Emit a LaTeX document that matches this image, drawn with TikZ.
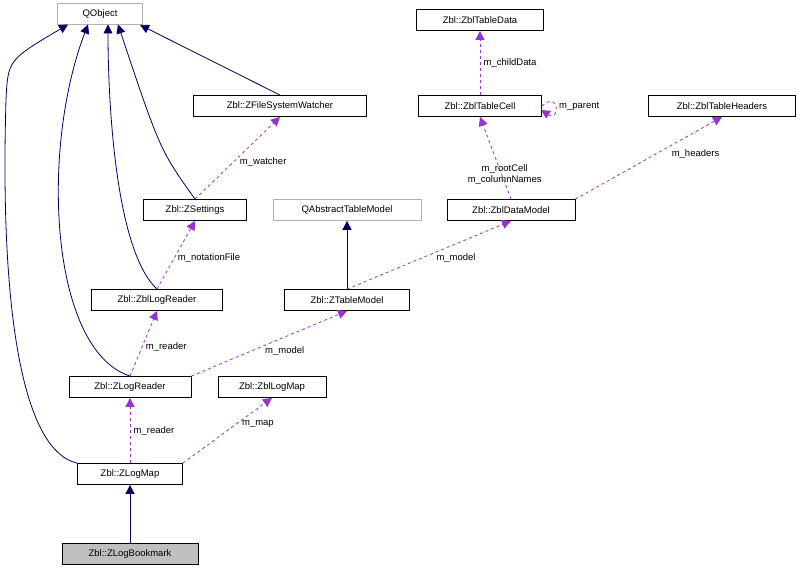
\documentclass[tikz,border=0pt]{standalone}
\usepackage{fontspec}
\setmainfont{Liberation Sans}
\colorlet{EdgeNavy}{blue!40!black}
\definecolor{EdgeViolet}{RGB}{154,50,205}
\usetikzlibrary{arrows.meta}

\begin{document}
\begin{tikzpicture}[x=1pt, y=-1pt,
    font=\fontsize{9.5}{11}\selectfont,
    cls/.style={draw=black, fill=white, inner sep=0pt, minimum height=21pt, line width=0.8pt},
    ext/.style={cls, draw=gray!60},
    inherit/.style={draw=EdgeNavy, line width=0.8pt, -{Triangle[length=9pt, width=9pt]}},
    usage/.style={draw=EdgeViolet, line width=0.8pt, dashed, -{Triangle[length=9pt, width=9pt]}}]

\useasboundingbox (0,0) rectangle (800,575);

\node[ext, minimum width=85pt] (QObject) at (100,14) {QObject};
\node[cls, minimum width=127pt] (TableData) at (480,20) {Zbl::ZblTableData};
\node[cls, minimum width=123pt] (TableCell) at (480,106) {Zbl::ZblTableCell};
\node[cls, minimum width=147pt] (TableHeaders) at (722,106) {Zbl::ZblTableHeaders};
\node[cls, minimum width=173pt] (Watcher) at (280,106) {Zbl::ZFileSystemWatcher};
\node[cls, minimum width=103pt] (Settings) at (195,210) {Zbl::ZSettings};
\node[ext, minimum width=148pt] (AbsModel) at (347,210) {QAbstractTableModel};
\node[cls, minimum width=128pt] (DataModel) at (511,210) {Zbl::ZblDataModel};
\node[cls, minimum width=131pt] (LogReaderZbl) at (157,300) {Zbl::ZblLogReader};
\node[cls, minimum width=125pt] (TableModel) at (347,300) {Zbl::ZTableModel};
\node[cls, minimum width=122pt] (LogReader) at (130,387) {Zbl::ZLogReader};
\node[cls, minimum width=108pt] (LogMapZbl) at (272,387) {Zbl::ZblLogMap};
\node[cls, minimum width=105pt] (LogMap) at (130,474) {Zbl::ZLogMap};
\node[cls, fill=gray!50, minimum width=136pt] (Bookmark) at (130,554) {Zbl::ZLogBookmark};

% inheritance
\draw[inherit] (Watcher.north) -- (QObject.south -| 140,0);
\draw[inherit] (Settings.north) .. controls (160,150) .. (118,24.5);
\draw[inherit] (LogReaderZbl.north) .. controls (115,250) and (108,100) .. (108,24.5);
\draw[inherit] (LogReader.north) .. controls (50,350) and (40,150) .. (88,24.5);
\draw[inherit] (LogMap.north west) .. controls (20,450) and (0,300) .. (6,100) .. controls (8,60) .. (68,24.5);
\draw[inherit] (TableModel.north) -- (AbsModel.south);
\draw[inherit] (Bookmark.north) -- (LogMap.south);

% usage
\draw[usage] (TableCell.north) -- node[right] {m\_childData} (TableData.south);
\draw[usage] (TableCell.east) .. controls (560,90) and (560,122) .. node[right, pos=0.5] {m\_parent} (541,110);
\draw[usage] (DataModel.north) -- node[pos=0.3, align=center, xshift=3pt] {m\_rootCell\\m\_columnNames} (TableCell.south);
\draw[usage] (DataModel.north east) -- node[pos=0.55, right, xshift=12pt] {m\_headers} (TableHeaders.south);
\draw[usage] (Settings.north) -- node[pos=0.45, right, xshift=3pt] {m\_watcher} (Watcher.south);
\draw[usage] (LogReaderZbl.north) -- node[pos=0.45, right] {m\_notationFile} (Settings.south);
\draw[usage] (TableModel.north) -- node[pos=0.45, right, xshift=12pt] {m\_model} (DataModel.south);
\draw[usage] (LogReader.north) -- node[pos=0.45, right] {m\_reader} (LogReaderZbl.south);
\draw[usage] (LogReader.north east) -- node[pos=0.45, right, yshift=-4pt] {m\_model} (TableModel.south);
\draw[usage] (LogMap.north) -- node[pos=0.5, right] {m\_reader} (LogReader.south);
\draw[usage] (LogMap.north east) -- node[pos=0.6, right, xshift=2pt] {m\_map} (LogMapZbl.south);

\end{tikzpicture}
\end{document}
